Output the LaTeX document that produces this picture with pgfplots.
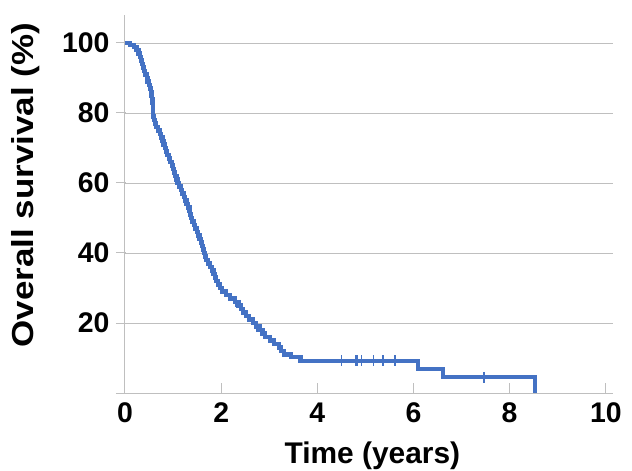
\documentclass[border=0pt]{standalone}
\usepackage{fontspec}
\setmainfont{Liberation Sans}
\usepackage{pgfplots}
\pgfplotsset{compat=1.18}
\definecolor{kmblue}{RGB}{68,114,196}
\definecolor{gridgray}{RGB}{191,191,191}

\begin{document}
\begin{tikzpicture}
\path[use as bounding box] (-125bp,-78bp) rectangle (507bp,393bp);
\begin{axis}[
  at={(0,0)}, anchor=south west,
  scale only axis, width=488bp, height=378bp,
  xmin=0, xmax=10.15, ymin=0, ymax=108,
  axis lines*=left,
  axis line style={gridgray, line width=1bp},
  xtick={0,2,...,10}, ytick={0,20,...,100},
  yticklabels={,20,40,60,80,100},
  ymajorgrids, grid style={gridgray, line width=0.8bp},
  tick align=inside, major tick length=10bp,
  tick style={gridgray, line width=1bp},
  y tick style={xshift=-9bp},
  tick label style={font=\bfseries\fontsize{28.5}{30}\selectfont},
  yticklabel style={xshift=-12bp},
  xticklabel style={yshift=-6bp},
  /pgf/number format/assume math mode=true,
  xlabel={Time (years)},
  ylabel={\scalebox{1.15}[1]{Overall survival (\%)}},
  xlabel style={font=\bfseries\fontsize{30}{32}\selectfont,
    at={(axis description cs:0.507,-0.128)}, anchor=north, inner sep=0pt},
  ylabel style={font=\bfseries\fontsize{30.5}{32}\selectfont,
    at={(axis description cs:-0.203,0.55)}, anchor=center},
  clip=false,
]
\addplot[kmblue, line width=4.2bp, const plot, mark=none] coordinates {
(0,100) (0.10,99.4) (0.18,98.8) (0.24,98) (0.28,97) (0.31,96) (0.33,95)
(0.35,94) (0.37,93) (0.39,92) (0.42,91) (0.45,90) (0.47,89) (0.50,88)
(0.52,87) (0.54,86) (0.55,85) (0.56,84) (0.57,83) (0.575,82) (0.58,81)
(0.585,80) (0.59,79) (0.60,78) (0.62,77) (0.65,76) (0.69,75) (0.72,74)
(0.75,73) (0.78,72) (0.80,71) (0.83,70) (0.86,69) (0.88,68) (0.91,67)
(0.94,66) (0.97,65) (1.00,64) (1.02,63) (1.04,62) (1.07,61) (1.09,60)
(1.12,59) (1.16,58) (1.19,57) (1.22,56) (1.25,55) (1.28,54) (1.31,53)
(1.34,52) (1.36,51) (1.38,50) (1.40,49) (1.43,48) (1.46,47) (1.49,46)
(1.52,45) (1.55,44) (1.58,43) (1.60,42) (1.62,41) (1.64,40) (1.66,39)
(1.69,38) (1.73,37) (1.77,36) (1.81,35) (1.84,34) (1.87,33) (1.90,32)
(1.93,31) (1.97,30) (2.02,29) (2.10,28) (2.18,27) (2.28,26) (2.36,25)
(2.42,24) (2.46,23) (2.52,22) (2.58,21) (2.66,20) (2.72,19) (2.80,18)
(2.86,17) (2.92,16) (3.02,15) (3.10,14) (3.20,13) (3.25,12) (3.30,11)
(3.45,10.2) (3.65,9.2) (6.09,6.8) (6.62,4.5) (8.52,0)
};
\addplot[only marks, mark=|, mark size=5.5bp, kmblue, mark options={line width=1.5bp}] coordinates {
(0.75,73) (1.00,64) (1.31,53) (1.55,44) (2.30,26) (2.40,25) (2.75,19)
(4.50,9.2) (4.79,9.2) (4.83,9.2) (4.92,9.2) (5.17,9.2) (5.37,9.2) (5.62,9.2)
(7.47,4.5)
};
\end{axis}
\end{tikzpicture}
\end{document}
